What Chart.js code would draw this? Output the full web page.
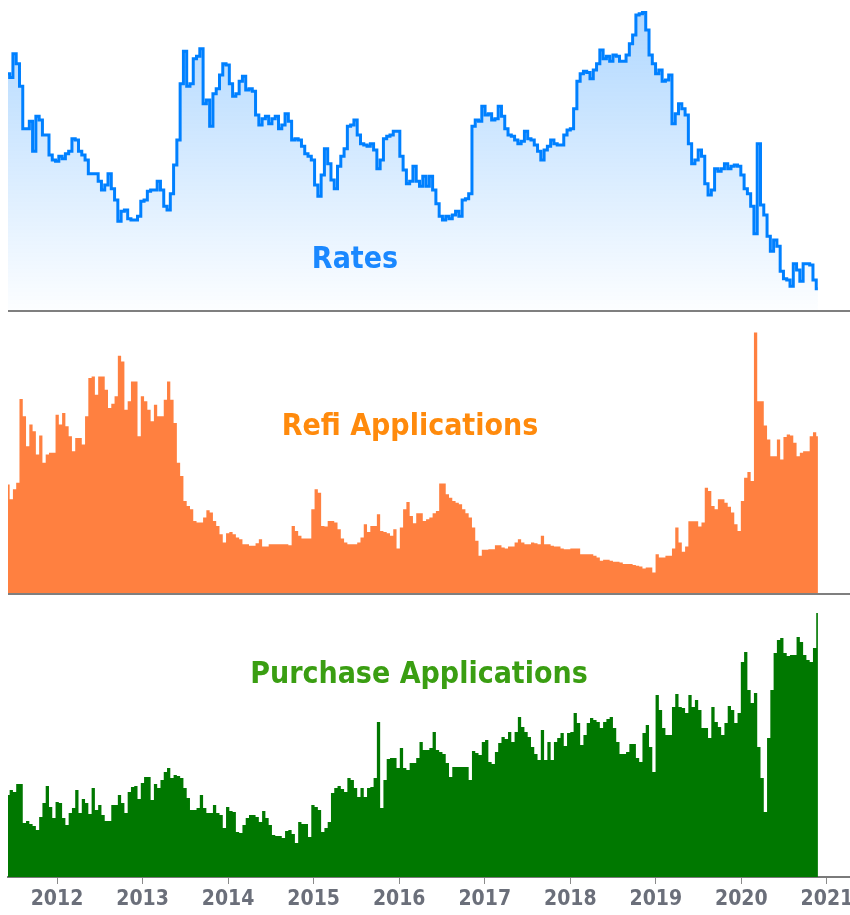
<!DOCTYPE html>
<html>
<head>
<meta charset="utf-8">
<script src="https://cdn.jsdelivr.net/npm/chart.js@4.4.1/dist/chart.umd.min.js"></script>
<style>
  html, body { margin: 0; padding: 0; background: #fff; overflow: hidden; width: 850px; height: 915px; }
  .panel { position: absolute; left: 0; width: 880px; }
  .sep { position: absolute; left: 8px; width: 842px; height: 2px; background: #7f7f7f; }
  .title {
    position: absolute; transform: translateX(-50%); white-space: nowrap;
    font-family: "DejaVu Sans Condensed", "DejaVu Sans", sans-serif; font-stretch: condensed;
    font-weight: bold; font-size: 30px; line-height: 30px;
  }
</style>
</head>
<body>
<div class="panel" style="top:0;height:310px"><canvas id="rateChart" width="880" height="310"></canvas></div>
<div class="sep" style="top:310px"></div>
<div class="panel" style="top:312px;height:281px"><canvas id="refiChart" width="880" height="281"></canvas></div>
<div class="sep" style="top:593px"></div>
<div class="panel" style="top:595px;height:320px"><canvas id="purchChart" width="880" height="320"></canvas></div>

<div class="title" style="left:355px;top:243px;color:#1a88ff">Rates</div>
<div class="title" style="left:410px;top:410px;color:#ff8a0c">Refi Applications</div>
<div class="title" style="left:419px;top:658px;color:#3a9e12">Purchase Applications</div>

<script>
// biweekly readings, first one early June 2011
const startYear = 2011.427;
const stepYears = 14 / 365.25;
const yearTicks = [2012, 2013, 2014, 2015, 2016, 2017, 2018, 2019, 2020, 2021];

// 30y mortgage rate, %
const rates = [
  4.68, 4.65, 4.84, 4.76, 4.58, 4.24, 4.24, 4.30, 4.06, 4.34,
  4.31, 4.19, 4.19, 4.03, 3.99, 3.98, 4.02, 4.00, 4.04, 4.06,
  4.16, 4.15, 4.06, 4.03, 3.99, 3.88, 3.88, 3.88, 3.82, 3.75,
  3.79, 3.88, 3.76, 3.67, 3.50, 3.58, 3.59, 3.52, 3.51, 3.51,
  3.54, 3.66, 3.67, 3.74, 3.75, 3.75, 3.82, 3.75, 3.62, 3.59,
  3.72, 3.95, 4.15, 4.60, 4.86, 4.58, 4.60, 4.80, 4.82, 4.88,
  4.44, 4.47, 4.26, 4.52, 4.56, 4.67, 4.76, 4.75, 4.60, 4.50,
  4.52, 4.62, 4.66, 4.55, 4.56, 4.54, 4.35, 4.27, 4.32, 4.34,
  4.28, 4.32, 4.34, 4.24, 4.27, 4.36, 4.30, 4.15, 4.16, 4.15,
  4.10, 4.04, 4.02, 3.99, 3.79, 3.70, 3.87, 4.08, 3.96, 3.83,
  3.76, 3.94, 4.02, 4.08, 4.26, 4.27, 4.31, 4.19, 4.12, 4.11,
  4.10, 4.12, 4.07, 3.92, 3.99, 4.16, 4.18, 4.19, 4.22, 4.22,
  4.02, 3.91, 3.80, 3.82, 3.94, 3.82, 3.78, 3.86, 3.78, 3.86,
  3.75, 3.64, 3.54, 3.51, 3.54, 3.52, 3.55, 3.58, 3.54, 3.67,
  3.68, 3.72, 4.26, 4.31, 4.30, 4.42, 4.35, 4.36, 4.31, 4.32,
  4.42, 4.34, 4.24, 4.19, 4.18, 4.15, 4.12, 4.14, 4.22, 4.16,
  4.15, 4.11, 4.06, 3.99, 4.07, 4.10, 4.15, 4.12, 4.11, 4.11,
  4.19, 4.23, 4.24, 4.40, 4.62, 4.68, 4.70, 4.69, 4.64, 4.71,
  4.76, 4.87, 4.80, 4.82, 4.78, 4.83, 4.82, 4.78, 4.78, 4.83,
  4.92, 4.99, 5.15, 5.16, 5.17, 5.03, 4.83, 4.76, 4.68, 4.71,
  4.62, 4.63, 4.67, 4.28, 4.36, 4.44, 4.40, 4.35, 4.12, 3.96,
  3.99, 4.07, 4.02, 3.80, 3.71, 3.75, 3.92, 3.90, 3.92, 3.96,
  3.92, 3.94, 3.95, 3.94, 3.87, 3.76, 3.72, 3.62, 3.40, 4.12,
  3.63, 3.55, 3.38, 3.26, 3.35, 3.30, 3.10, 3.04, 3.03, 2.98,
  3.16, 3.11, 3.02, 3.16, 3.16, 3.15, 3.03, 2.96
];

// refinance index
const refi = [
  3270, 2820, 3120, 3320, 5840, 5320, 4420, 5070, 4870, 4170,
  4740, 3920, 4170, 4220, 4220, 5370, 5070, 5420, 5020, 4720,
  4270, 4670, 4670, 4470, 5320, 6470, 6520, 5970, 6520, 6520,
  6120, 5570, 5700, 5920, 7140, 6970, 5520, 5770, 6370, 6370,
  4720, 5920, 5770, 5520, 5170, 5670, 5320, 5320, 5820, 6370,
  5820, 5120, 3920, 3520, 2770, 2620, 2520, 2170, 2120, 2120,
  2270, 2490, 2420, 2170, 2020, 1770, 1520, 1800, 1840, 1770,
  1670, 1620, 1470, 1470, 1420, 1420, 1500, 1620, 1400, 1400,
  1470, 1470, 1470, 1470, 1470, 1470, 1440, 2020, 1870, 1720,
  1640, 1640, 1640, 2520, 3120, 3020, 2020, 2000, 2170, 2170,
  2120, 1920, 1640, 1520, 1470, 1470, 1470, 1520, 1670, 2070,
  1840, 2020, 2020, 2370, 1870, 1840, 1800, 1720, 1920, 1340,
  1970, 2520, 2740, 2320, 2100, 2400, 2400, 2170, 2220, 2270,
  2400, 2470, 3300, 3300, 2970, 2870, 2770, 2720, 2670, 2520,
  2400, 2270, 1970, 1570, 1120, 1300, 1300, 1320, 1320, 1440,
  1440, 1370, 1340, 1400, 1400, 1520, 1620, 1520, 1470, 1470,
  1520, 1500, 1470, 1720, 1470, 1470, 1420, 1400, 1400, 1340,
  1320, 1320, 1340, 1340, 1340, 1170, 1170, 1170, 1170, 1120,
  1070, 970, 1000, 1000, 970, 940, 940, 920, 870, 870,
  870, 840, 820, 800, 740, 770, 770, 620, 1170, 1070,
  1070, 1120, 1120, 1340, 1970, 1520, 1240, 1400, 2160, 2160,
  2160, 2000, 2120, 3170, 3070, 2620, 2520, 2820, 2820, 2720,
  2600, 2420, 2070, 1870, 2770, 3470, 3640, 3370, 7840, 5770,
  5770, 5040, 4620, 4120, 4120, 4620, 4020, 4700, 4770, 4740,
  4520, 4120, 4220, 4270, 4270, 4720, 4840, 4720
];

// purchase index
const purchase = [
  182, 187, 185, 193, 193, 154, 156, 153, 151, 147,
  160, 174, 191, 170, 159, 175, 174, 159, 152, 164,
  169, 187, 164, 178, 174, 163, 189, 167, 172, 162,
  156, 156, 172, 172, 182, 174, 164, 185, 190, 191,
  178, 194, 200, 200, 177, 193, 189, 197, 205, 209,
  199, 202, 201, 199, 189, 179, 167, 167, 169, 182,
  169, 164, 164, 172, 164, 162, 149, 170, 166, 165,
  145, 144, 152, 159, 162, 162, 160, 155, 166, 159,
  152, 142, 141, 141, 139, 146, 147, 143, 134, 155,
  153, 153, 140, 172, 170, 167, 145, 149, 155, 184,
  189, 191, 188, 185, 199, 197, 189, 180, 189, 180,
  189, 190, 199, 255, 169, 197, 218, 219, 219, 209,
  229, 209, 207, 214, 214, 219, 235, 227, 227, 229,
  245, 227, 225, 223, 214, 200, 210, 210, 210, 210,
  210, 197, 226, 224, 222, 235, 237, 215, 213, 225,
  234, 240, 238, 245, 235, 245, 260, 250, 245, 240,
  230, 223, 217, 247, 217, 235, 217, 235, 239, 244,
  231, 244, 245, 264, 254, 232, 242, 254, 259, 257,
  255, 249, 255, 258, 260, 249, 235, 223, 223, 225,
  233, 233, 219, 215, 244, 252, 230, 205, 282, 267,
  249, 242, 242, 270, 283, 270, 269, 264, 282, 270,
  277, 267, 249, 249, 239, 270, 255, 250, 242, 254,
  271, 267, 254, 264, 315, 325, 287, 274, 284, 230,
  199, 165, 239, 287, 324, 337, 339, 324, 321, 322,
  322, 340, 335, 322, 317, 315, 329, 364
];

const xMin = 2011.427;
const xMax = 2021.27;

function points(values) {
  return values.map((v, i) => ({ x: startYear + i * stepYears, y: v }));
}

function makeChart(id, dataset, yMin, yMax, bottomAxis) {
  const xScale = { type: "linear", min: xMin, max: xMax, display: false };
  if (bottomAxis) {
    Object.assign(xScale, {
      display: true,
      afterBuildTicks: s => { s.ticks = yearTicks.map(v => ({ value: v })); },
      afterFit: s => { s.height = 38; },
      grid: { drawOnChartArea: false, drawTicks: true, tickLength: 7, color: "#8a8a8a", lineWidth: 1 },
      border: { display: true, color: "#7a7a7a", width: 2 },
      ticks: {
        padding: 3, color: "#6b6f7a", maxRotation: 0, autoSkip: false,
        font: { family: "'DejaVu Sans Condensed', 'DejaVu Sans', sans-serif", size: 21, weight: "bold" },
        callback: v => String(v)
      }
    });
  }
  return new Chart(document.getElementById(id).getContext("2d"), {
    type: "line",
    data: { datasets: [dataset] },
    options: {
      responsive: false,
      animation: false,
      layout: { padding: { left: 8, right: 30, top: 0, bottom: 0 } },
      plugins: { legend: { display: false }, tooltip: { enabled: false } },
      scales: {
        x: xScale,
        y: { display: false, min: yMin, max: yMax }
      }
    }
  });
}

makeChart("rateChart", {
  data: points(rates),
  borderColor: "#0080ff",
  borderWidth: 3,
  pointRadius: 0,
  stepped: "middle",
  fill: "start",
  backgroundColor: ctx => {
    const area = ctx.chart.chartArea;
    if (!area) return "rgba(0,128,255,0.15)";
    const g = ctx.chart.ctx.createLinearGradient(0, area.top, 0, area.bottom);
    g.addColorStop(0, "rgba(0,128,255,0.32)");
    g.addColorStop(1, "rgba(0,128,255,0.01)");
    return g;
  }
}, 2.79, 5.27, false);

makeChart("refiChart", {
  data: points(refi),
  borderWidth: 0,
  borderColor: "rgba(0,0,0,0)",
  pointRadius: 0,
  stepped: "middle",
  fill: "start",
  backgroundColor: "#ff8040"
}, 0, 8460, false);

makeChart("purchChart", {
  data: points(purchase),
  borderWidth: 0,
  borderColor: "rgba(0,0,0,0)",
  pointRadius: 0,
  stepped: "middle",
  fill: "start",
  backgroundColor: "#007800"
}, 100, 382, true);
</script>
</body>
</html>
